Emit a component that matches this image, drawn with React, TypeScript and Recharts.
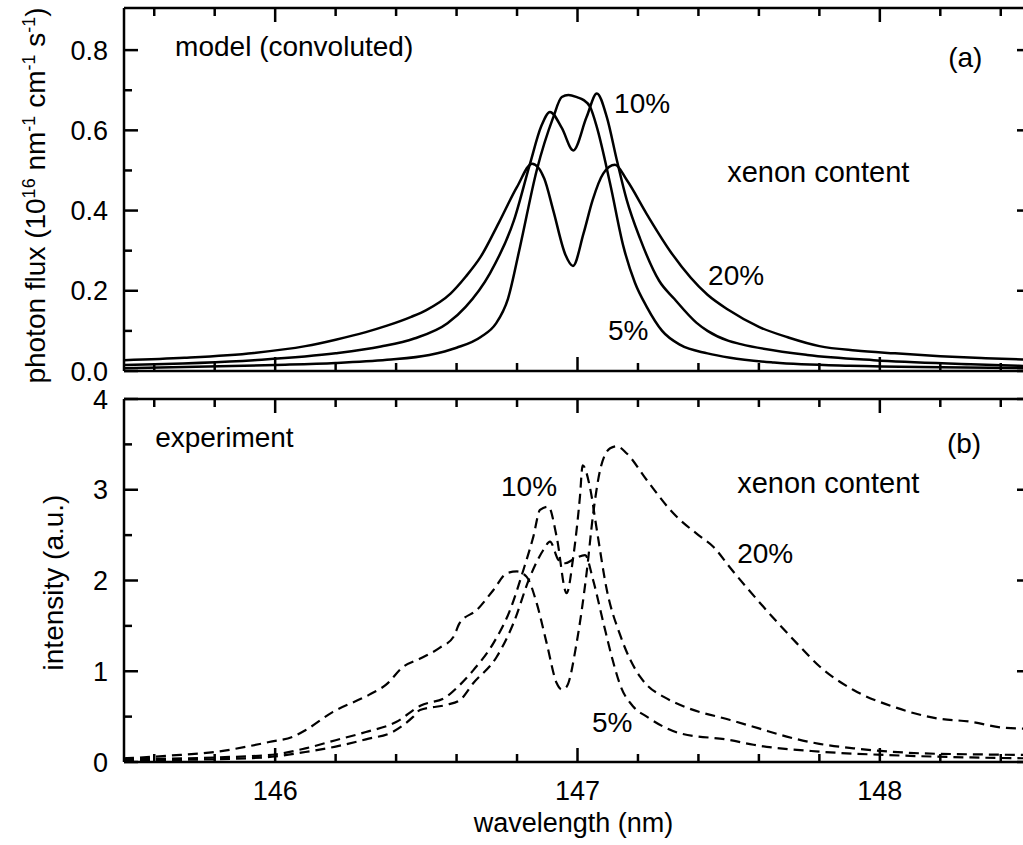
import React from 'react'
import { LineChart, Line, XAxis, YAxis, ReferenceDot } from 'recharts'

// model (convoluted) spectra, photon flux in 10^16 nm^-1 cm^-1 s^-1
const modelWl5 = [145.5, 146.0, 146.2, 146.37, 146.51, 146.6, 146.68, 146.73, 146.77, 146.81, 146.865, 146.92, 146.948, 146.97, 147.0, 147.019, 147.042, 147.064, 147.108, 147.152, 147.19, 147.229, 147.28, 147.34, 147.43, 147.505, 147.65, 147.9, 148.5]
const model5 = [0.007, 0.015, 0.02, 0.028, 0.04, 0.058, 0.085, 0.118, 0.18, 0.31, 0.5, 0.633, 0.683, 0.688, 0.682, 0.676, 0.658, 0.608, 0.467, 0.31, 0.22, 0.16, 0.1, 0.065, 0.044, 0.033, 0.021, 0.013, 0.007]

const modelWl10 = [145.5, 145.93, 146.2, 146.35, 146.46, 146.57, 146.63, 146.71, 146.79, 146.843, 146.88, 146.909, 146.948, 146.986, 147.03, 147.064, 147.097, 147.13, 147.163, 147.207, 147.27, 147.32, 147.394, 147.43, 147.5, 147.54, 147.76, 147.98, 148.3, 148.5]
const model10 = [0.015, 0.027, 0.044, 0.061, 0.081, 0.119, 0.16, 0.243, 0.376, 0.517, 0.61, 0.646, 0.606, 0.55, 0.633, 0.692, 0.633, 0.526, 0.426, 0.33, 0.225, 0.18, 0.12, 0.1, 0.075, 0.067, 0.04, 0.027, 0.017, 0.012]

const modelWl20 = [145.5, 145.7, 145.93, 146.1, 146.2, 146.3, 146.37, 146.45, 146.5, 146.58, 146.63, 146.68, 146.74, 146.8, 146.85, 146.89, 146.92, 146.96, 146.985, 147.02, 147.05, 147.085, 147.124, 147.163, 147.23, 147.31, 147.43, 147.5, 147.6, 147.7, 147.8, 147.92, 148.05, 148.2, 148.35, 148.5]
const model20 = [0.027, 0.033, 0.045, 0.062, 0.078, 0.097, 0.113, 0.135, 0.152, 0.193, 0.235, 0.285, 0.37, 0.459, 0.517, 0.48, 0.4, 0.29, 0.262, 0.343, 0.426, 0.492, 0.514, 0.476, 0.39, 0.295, 0.19, 0.152, 0.11, 0.083, 0.062, 0.051, 0.044, 0.037, 0.032, 0.028]

// experiment, intensity in a.u.
const expWl5 = [145.5, 145.8, 145.99, 146.1, 146.2, 146.3, 146.39, 146.457, 146.479, 146.567, 146.611, 146.655, 146.733, 146.788, 146.843, 146.887, 146.909, 146.937, 146.959, 146.99, 147.025, 147.052, 147.086, 147.119, 147.141, 147.185, 147.229, 147.339, 147.505, 147.582, 147.802, 148.023, 148.3, 148.5]
const exp5 = [0.02, 0.03, 0.058, 0.11, 0.17, 0.25, 0.334, 0.5, 0.573, 0.63, 0.683, 0.867, 1.16, 1.528, 2.042, 2.336, 2.428, 2.226, 2.19, 2.24, 2.28, 2.0, 1.528, 1.09, 0.85, 0.609, 0.5, 0.316, 0.242, 0.19, 0.114, 0.077, 0.05, 0.04]

const expWl10 = [145.5, 145.8, 145.99, 146.1, 146.2, 146.3, 146.4, 146.48, 146.567, 146.611, 146.655, 146.722, 146.777, 146.821, 146.854, 146.876, 146.904, 146.931, 146.964, 146.986, 147.008, 147.017, 147.041, 147.064, 147.097, 147.141, 147.207, 147.229, 147.284, 147.361, 147.505, 147.6, 147.692, 147.8, 147.913, 148.133, 148.3, 148.5]
const exp10 = [0.03, 0.05, 0.08, 0.15, 0.24, 0.33, 0.44, 0.62, 0.72, 0.85, 1.01, 1.31, 1.675, 2.116, 2.483, 2.777, 2.813, 2.483, 1.86, 2.26, 2.92, 3.27, 3.03, 2.556, 1.895, 1.4, 0.94, 0.85, 0.72, 0.6, 0.463, 0.37, 0.28, 0.2, 0.151, 0.096, 0.085, 0.077]

const expWl20 = [145.5, 145.65, 145.8, 145.98, 146.06, 146.1, 146.19, 146.31, 146.37, 146.42, 146.48, 146.545, 146.59, 146.61, 146.667, 146.722, 146.766, 146.8, 146.832, 146.865, 146.898, 146.931, 146.948, 146.964, 146.997, 147.03, 147.052, 147.075, 147.108, 147.13, 147.163, 147.229, 147.317, 147.4, 147.45, 147.505, 147.615, 147.725, 147.802, 147.913, 148.045, 148.188, 148.3, 148.409, 148.5]
const exp20 = [0.04, 0.07, 0.11, 0.22, 0.28, 0.35, 0.55, 0.74, 0.86, 1.04, 1.14, 1.26, 1.38, 1.53, 1.675, 1.895, 2.08, 2.1, 2.04, 1.75, 1.31, 0.87, 0.8, 0.83, 1.31, 2.08, 2.74, 3.22, 3.457, 3.48, 3.4, 3.107, 2.74, 2.5, 2.37, 2.14, 1.71, 1.31, 1.05, 0.793, 0.609, 0.481, 0.444, 0.378, 0.365]

const xTicks = [145.6, 145.8, 146, 146.2, 146.4, 146.6, 146.8, 147, 147.2, 147.4, 147.6, 147.8, 148, 148.2, 148.4]
const xMajor = [146, 147, 148]
const topTicks = [0, 0.1, 0.2, 0.3, 0.4, 0.5, 0.6, 0.7, 0.8]
const topMajor = [0, 0.2, 0.4, 0.6, 0.8]
const botTicks = [0, 0.5, 1, 1.5, 2, 2.5, 3, 3.5, 4]
const botMajor = [0, 1, 2, 3, 4]

const zip = (wl: number[], v: number[]) => wl.map((w, i) => ({ wl: w, v: v[i] }))

const FONT = "'Liberation Sans', Arial, Helvetica, sans-serif"
const DOMAIN_X: [number, number] = [145.5, 148.5]

function AxisTick(props: any) {
  const { x, y, payload, side, majors, showLabel, digits } = props
  const v = payload.value
  const major = majors.some((m: number) => Math.abs(m - v) < 1e-6)
  const len = major ? 14 : 8
  let line = null
  if (side === 'bottom') line = <line x1={x} y1={y} x2={x} y2={y - len} />
  if (side === 'top') line = <line x1={x} y1={y} x2={x} y2={y + len} />
  if (side === 'left') line = <line x1={x} y1={y} x2={x + len} y2={y} />
  if (side === 'right') line = <line x1={x} y1={y} x2={x - len} y2={y} />
  return (
    <g stroke="#000" strokeWidth={2.5}>
      {line}
      {showLabel && major && side === 'bottom' && (
        <text x={x} y={y + 38} textAnchor="middle" fontSize={27} fill="#000" stroke="none">
          {v.toFixed(digits)}
        </text>
      )}
      {showLabel && major && side === 'left' && (
        <text x={x - 16} y={y} dy="0.36em" textAnchor="end" fontSize={27} fill="#000" stroke="none">
          {v.toFixed(digits)}
        </text>
      )}
    </g>
  )
}

function FluxTitle(props: any) {
  const vb = props.viewBox || { x: 0, y: 8, width: 124, height: 363 }
  const bx = vb.x + 45
  const cy = vb.y + vb.height / 2 + 6
  return (
    <text x={bx} y={cy} transform={`rotate(-90 ${bx} ${cy})`} textAnchor="middle" fontSize={28} fill="#000">
      photon flux (10<tspan dy={-10} fontSize={18}>16</tspan>
      <tspan dy={10}> nm</tspan><tspan dy={-10} fontSize={18}>-1</tspan>
      <tspan dy={10}> cm</tspan><tspan dy={-10} fontSize={18}>-1</tspan>
      <tspan dy={10}> s</tspan><tspan dy={-10} fontSize={18}>-1</tspan>
      <tspan dy={10}>)</tspan>
    </text>
  )
}

function IntensityTitle(props: any) {
  const vb = props.viewBox || { x: 0, y: 14, width: 124, height: 363 }
  const bx = vb.x + 63
  const cy = vb.y + vb.height / 2 + 2
  return (
    <text x={bx} y={cy} transform={`rotate(-90 ${bx} ${cy})`} textAnchor="middle" fontSize={28} fill="#000">
      intensity (a.u.)
    </text>
  )
}

function WavelengthTitle(props: any) {
  const vb = props.viewBox || { x: 124, y: 377, width: 907, height: 60 }
  return (
    <text x={vb.x + vb.width / 2 - 4} y={vb.y + 70} textAnchor="middle" fontSize={27} fill="#000">
      wavelength (nm)
    </text>
  )
}

const note = (text: string, size: number) => ({ value: text, position: 'right' as const, offset: 0, fill: '#000', fontSize: size })

const topNotes = [
  { text: 'model (convoluted)', wl: 145.669, v: 0.809, size: 28 },
  { text: '(a)', wl: 148.226, v: 0.782, size: 28 },
  { text: '10%', wl: 147.121, v: 0.667, size: 28 },
  { text: 'xenon content', wl: 147.495, v: 0.498, size: 29 },
  { text: '20%', wl: 147.432, v: 0.239, size: 28 },
  { text: '5%', wl: 147.101, v: 0.102, size: 28 },
]

const botNotes = [
  { text: 'experiment', wl: 145.603, v: 3.58, size: 28 },
  { text: '(b)', wl: 148.222, v: 3.515, size: 28 },
  { text: '10%', wl: 146.747, v: 3.04, size: 28 },
  { text: 'xenon content', wl: 147.528, v: 3.074, size: 29 },
  { text: '20%', wl: 147.528, v: 2.303, size: 28 },
  { text: '5%', wl: 147.048, v: 0.44, size: 28 },
]

const axisLine = { stroke: '#000', strokeWidth: 2.5 }

export default function App() {
  return (
    <div style={{ position: 'absolute', left: 0, top: 0, width: 1023, height: 845, overflow: 'hidden', background: '#fff', fontFamily: FONT }}>
      <div style={{ position: 'absolute', left: 0, top: 0 }}>
        <LineChart width={1040} height={395} margin={{ top: 7, right: 8, bottom: 23, left: 0 }}>
          <XAxis dataKey="wl" type="number" domain={DOMAIN_X} allowDataOverflow ticks={xTicks} interval={0}
            height={1} tickSize={0} tickMargin={0} tickLine={false} axisLine={axisLine}
            tick={<AxisTick side="bottom" majors={xMajor} showLabel={false} digits={0} />} />
          <XAxis xAxisId="top" orientation="top" dataKey="wl" type="number" domain={DOMAIN_X} allowDataOverflow ticks={xTicks} interval={0}
            height={1} tickSize={0} tickMargin={0} tickLine={false} axisLine={axisLine}
            tick={<AxisTick side="top" majors={xMajor} showLabel={false} digits={0} />} />
          <YAxis type="number" domain={[0, 0.905]} allowDataOverflow ticks={topTicks} interval={0}
            width={124} tickSize={0} tickMargin={0} tickLine={false} axisLine={axisLine}
            tick={<AxisTick side="left" majors={topMajor} showLabel digits={1} />}
            label={{ content: (p: any) => <FluxTitle {...p} /> }} />
          <YAxis yAxisId="r" orientation="right" type="number" domain={[0, 0.905]} allowDataOverflow ticks={topMajor} interval={0}
            width={1} tickSize={0} tickMargin={0} tickLine={false} axisLine={axisLine}
            tick={<AxisTick side="right" majors={topMajor} showLabel={false} digits={1} />} />
          <Line data={zip(modelWl5, model5)} dataKey="v" type="monotone" stroke="#000" strokeWidth={2.5} dot={false} isAnimationActive={false} />
          <Line data={zip(modelWl10, model10)} dataKey="v" type="monotone" stroke="#000" strokeWidth={2.5} dot={false} isAnimationActive={false} />
          <Line data={zip(modelWl20, model20)} dataKey="v" type="monotone" stroke="#000" strokeWidth={2.5} dot={false} isAnimationActive={false} />
          {topNotes.map((n) => (
            <ReferenceDot key={n.text + n.wl} x={n.wl} y={n.v} r={0} stroke="none" fill="none" label={note(n.text, n.size)} />
          ))}
        </LineChart>
      </div>
      <div style={{ position: 'absolute', left: 0, top: 385 }}>
        <LineChart width={1040} height={460} margin={{ top: 13, right: 8, bottom: 23, left: 0 }}>
          <XAxis dataKey="wl" type="number" domain={DOMAIN_X} allowDataOverflow ticks={xTicks} interval={0}
            height={60} tickSize={0} tickMargin={0} tickLine={false} axisLine={axisLine}
            tick={<AxisTick side="bottom" majors={xMajor} showLabel digits={0} />}
            label={{ content: (p: any) => <WavelengthTitle {...p} /> }} />
          <XAxis xAxisId="top" orientation="top" dataKey="wl" type="number" domain={DOMAIN_X} allowDataOverflow ticks={xTicks} interval={0}
            height={1} tickSize={0} tickMargin={0} tickLine={false} axisLine={axisLine}
            tick={<AxisTick side="top" majors={xMajor} showLabel={false} digits={0} />} />
          <YAxis type="number" domain={[0, 4]} allowDataOverflow ticks={botTicks} interval={0}
            width={124} tickSize={0} tickMargin={0} tickLine={false} axisLine={axisLine}
            tick={<AxisTick side="left" majors={botMajor} showLabel digits={0} />}
            label={{ content: (p: any) => <IntensityTitle {...p} /> }} />
          <YAxis yAxisId="r" orientation="right" type="number" domain={[0, 4]} allowDataOverflow ticks={botMajor} interval={0}
            width={1} tickSize={0} tickMargin={0} tickLine={false} axisLine={axisLine}
            tick={<AxisTick side="right" majors={botMajor} showLabel={false} digits={0} />} />
          <Line data={zip(expWl5, exp5)} dataKey="v" type="monotone" stroke="#000" strokeWidth={2.2} strokeDasharray="10 6" dot={false} isAnimationActive={false} />
          <Line data={zip(expWl10, exp10)} dataKey="v" type="monotone" stroke="#000" strokeWidth={2.2} strokeDasharray="10 6" dot={false} isAnimationActive={false} />
          <Line data={zip(expWl20, exp20)} dataKey="v" type="monotone" stroke="#000" strokeWidth={2.2} strokeDasharray="10 6" dot={false} isAnimationActive={false} />
          {botNotes.map((n) => (
            <ReferenceDot key={n.text + n.wl} x={n.wl} y={n.v} r={0} stroke="none" fill="none" label={note(n.text, n.size)} />
          ))}
        </LineChart>
      </div>
    </div>
  )
}
